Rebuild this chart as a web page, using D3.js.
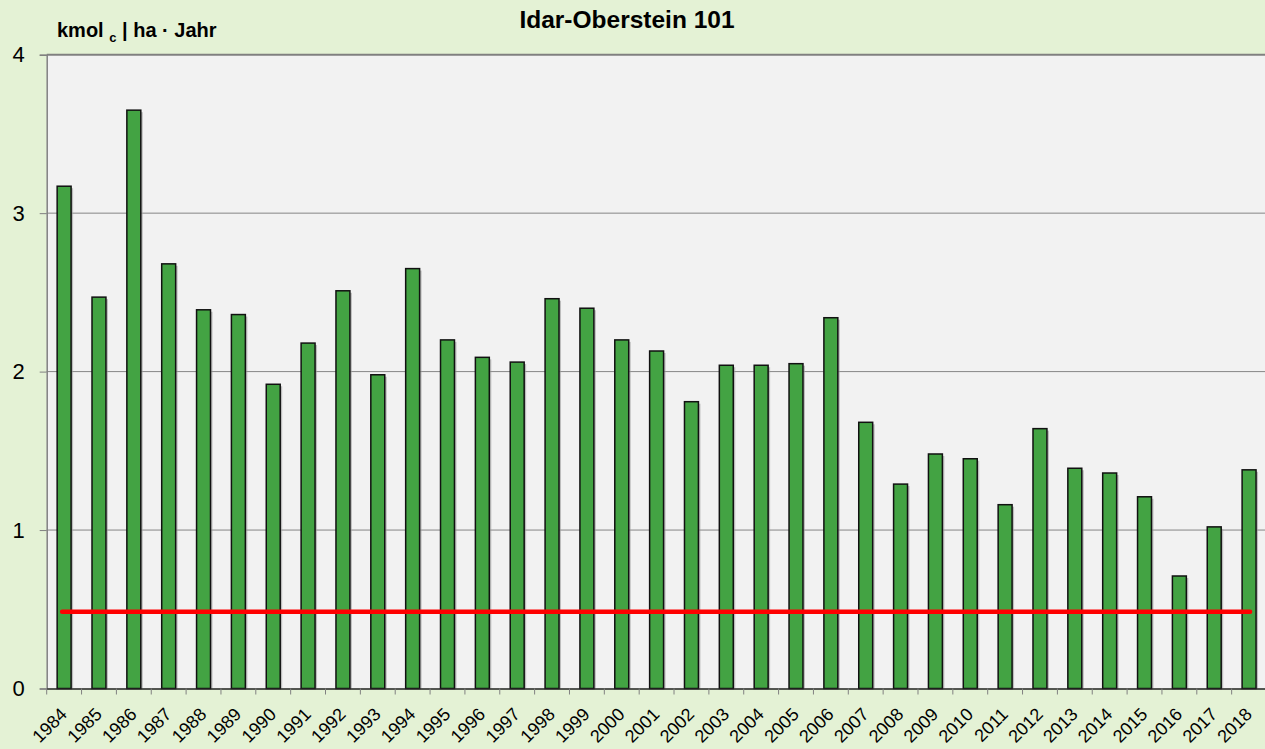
<!DOCTYPE html>
<html><head><meta charset="utf-8">
<script src="https://cdn.jsdelivr.net/npm/d3@7"></script>
<style>html,body{margin:0;padding:0;background:#E4F2D5;}svg{display:block;font-family:"Liberation Sans",Arial,sans-serif;}</style>
</head><body>
<svg id="c" width="1265" height="749"></svg>
<script>
const years = ["1984","1985","1986","1987","1988","1989","1990","1991","1992","1993","1994","1995","1996","1997","1998","1999","2000","2001","2002","2003","2004","2005","2006","2007","2008","2009","2010","2011","2012","2013","2014","2015","2016","2017","2018"];
const values = [3.17,2.47,3.65,2.68,2.39,2.36,1.92,2.18,2.51,1.98,2.65,2.20,2.09,2.06,2.46,2.40,2.20,2.13,1.81,2.04,2.04,2.05,2.34,1.68,1.29,1.48,1.45,1.16,1.64,1.39,1.36,1.21,0.71,1.02,1.38];
const threshold = 0.485;
const yTicks = [0,1,2,3,4];
const title = "Idar-Oberstein 101";

const svg = d3.select("#c");
const L = 46.7, R = 1266.5, T = 54.7, B = 688.5;
svg.append("rect").attr("width",1265).attr("height",749).attr("fill","#E4F2D5");
svg.append("rect").attr("x",L).attr("y",T).attr("width",R-L).attr("height",B-T).attr("fill","#F2F2F2");

const x = d3.scaleBand().domain(years).range([L,R]).paddingInner(0.6).paddingOuter(0.3);
const xb = d3.scaleBand().domain(years).range([L,R]);
const y = d3.scaleLinear().domain([0,4]).range([B,T]);

// gridlines
svg.append("g").selectAll("line").data(yTicks.filter(d=>d>0&&d<4)).join("line")
  .attr("x1",L).attr("x2",R).attr("y1",d=>y(d)).attr("y2",d=>y(d))
  .attr("stroke","#868686").attr("stroke-width",1);
svg.append("line").attr("x1",L).attr("x2",R).attr("y1",y(4)).attr("y2",y(4)).attr("stroke","#808080").attr("stroke-width",2);

// y axis
const ya = svg.append("g").attr("transform",`translate(${L},0)`)
  .call(d3.axisLeft(y).tickValues(yTicks).tickSize(7).tickPadding(15).tickFormat(d3.format("d")));
ya.select(".domain").attr("stroke","#808080").attr("stroke-width",1.5);
ya.selectAll(".tick line").attr("stroke","#808080");
ya.selectAll("text").attr("font-size",22).attr("fill","#000").attr("font-family","Liberation Sans, Arial, sans-serif");

// bars shadow + bars
svg.append("g").selectAll("rect").data(values).join("rect")
  .attr("x",(d,i)=>x(years[i])+2).attr("y",d=>y(d)+2)
  .attr("width",x.bandwidth()).attr("height",d=>B-y(d)-2)
  .attr("fill","#9a9a9a").attr("opacity",0.6);
svg.append("g").selectAll("rect").data(values).join("rect")
  .attr("x",(d,i)=>x(years[i])).attr("y",d=>y(d))
  .attr("width",x.bandwidth()).attr("height",d=>B-y(d))
  .attr("fill","#43A343").attr("stroke","#111").attr("stroke-width",1.5);

// x axis
const xa = svg.append("g").attr("transform",`translate(0,${B})`)
  .call(d3.axisBottom(xb).tickSize(0).tickFormat(""));
xa.select(".domain").attr("stroke","#222").attr("stroke-width",1.5);
svg.append("g").selectAll("line").data(years.concat(["end"])).join("line")
  .attr("x1",(d,i)=>L+i*xb.step()).attr("x2",(d,i)=>L+i*xb.step())
  .attr("y1",B).attr("y2",B+6).attr("stroke","#808080");
svg.append("g").selectAll("text").data(years).join("text")
  .attr("transform",d=>`translate(${xb(d)+xb.bandwidth()/2+4},${B+27}) rotate(-45)`)
  .attr("text-anchor","end").attr("font-size",18).attr("fill","#000").text(d=>d);

// threshold line
svg.append("line")
  .attr("x1",xb(years[0])+xb.bandwidth()/2-2).attr("x2",xb(years[years.length-1])+xb.bandwidth()/2+1)
  .attr("y1",y(threshold)).attr("y2",y(threshold))
  .attr("stroke","#FF0000").attr("stroke-width",4.5).attr("stroke-linecap","round");

// title
svg.append("text").attr("x",627).attr("y",28).attr("text-anchor","middle")
  .attr("font-size",24.5).attr("font-weight","bold").text(title);
// unit label
const u = svg.append("text").attr("x",57).attr("y",37).attr("font-size",20).attr("font-weight","bold");
u.append("tspan").text("kmol ");
u.append("tspan").attr("font-size",13).attr("dy",5).text("c");
u.append("tspan").attr("dy",-5).text(" | ha · Jahr");
</script>
</body></html>
